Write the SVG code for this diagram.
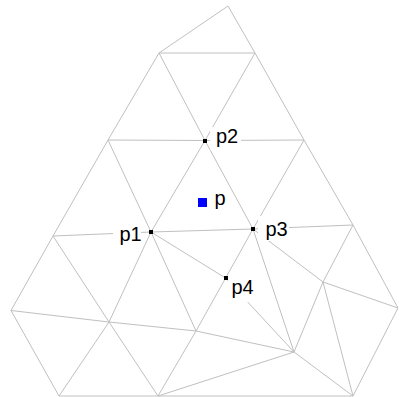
<svg xmlns="http://www.w3.org/2000/svg" width="399" height="397" viewBox="0 0 399 397">
<style>
.e{stroke:#c0c0c0;stroke-width:1;fill:none}
.m{fill:#000}
.bg{fill:#fff}
.t{font-family:"Liberation Sans",Arial,sans-serif;font-size:20px;fill:#000}
</style>
<rect width="399" height="397" fill="#fff"/>
<g id="connectors">
<path class="e" d="M228,6L159,53M228,6L255,53M159,53L255,53"/>
<path class="e" d="M159,53L108,140M159,53L205,140.5M255,53L205,140.5M255,53L304,140M108,140L205,140.5L304,140"/>
<path class="e" d="M108,140L53,236M108,140L151,232M205,140.5L151,232M205,140.5L253,229M304,140L253,229M304,140L353,225M53,236L151,232L253,229L353,225"/>
<path class="e" d="M53,236L11,310.5M53,236L109,322M151,232L109,322M151,232L196,331M253,229L196,331M253,229L323,282M253,229L294,352M353,225L323,282M353,225L398,308"/>
<path class="e" d="M11,310.5L109,322L196,331L294,352M11,310.5L59,396M109,322L59,396M109,322L158,396M196,331L158,396M158,396L294,352M294,352L323,282M294,352L353,396M323,282L353,396M323,282L398,308M398,308L353,396M59,396L353,396"/>
<path class="e" d="M151,232L225.5,278M225.5,278L294,352"/>
</g>
<g id="p1">
<rect class="bg" x="113" y="223" width="28" height="24"/>
<rect class="m" x="149" y="230" width="4" height="4"/>
<text class="t" x="119.5" y="241">p1</text>
</g>
<g id="p2">
<rect class="bg" x="210" y="127" width="31" height="23"/>
<rect class="m" x="203" y="139" width="4" height="4"/>
<text class="t" x="216" y="143">p2</text>
</g>
<g id="p3">
<rect class="bg" x="258" y="216" width="31" height="25"/>
<rect class="m" x="251" y="227" width="4" height="4"/>
<text class="t" x="265.5" y="235.5">p3</text>
</g>
<g id="p4">
<rect class="bg" x="228" y="276" width="29" height="26"/>
<rect class="m" x="224" y="276" width="4" height="4"/>
<text class="t" x="231.5" y="294">p4</text>
</g>
<g id="p">
<rect x="198" y="198" width="9" height="9" fill="#0000ff"/>
<text class="t" x="214.5" y="205">p</text>
</g>
</svg>
